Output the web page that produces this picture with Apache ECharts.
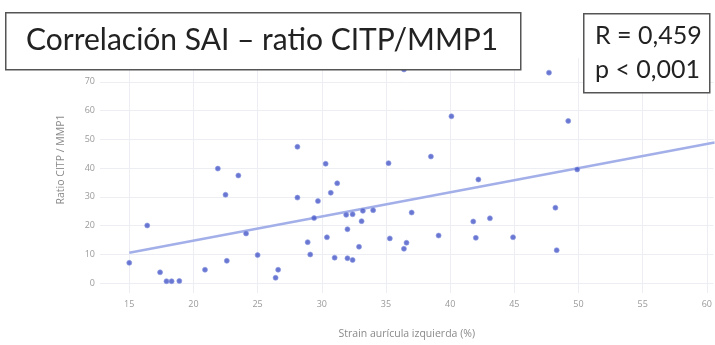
<!DOCTYPE html>
<html>
<head>
<meta charset="utf-8">
<script src="https://cdn.jsdelivr.net/npm/echarts@6/dist/echarts.min.js"></script>
<style>
html,body{margin:0;padding:0;background:#fff;}
#c{width:715px;height:345px;}
</style>
</head>
<body>
<div id="c"></div>
<script>
// Data
const strainX = [15.0,16.4,17.4,17.9,18.3,18.9,20.9,21.9,22.5,22.6,23.5,24.1,25.0,26.4,26.6,28.1,28.1,28.9,29.1,29.4,29.7,30.3,30.7,31.2,30.4,31.0,31.9,32.4,32.0,32.0,32.4,32.9,33.1,33.2,34.0,35.2,35.3,36.4,36.6,37.0,38.5,39.1,40.1,36.4,41.8,42.0,42.2,43.1,44.9,47.7,48.2,48.3,49.2,49.9];
const ratioY  = [7.0,20.0,3.7,0.6,0.6,0.7,4.6,39.8,30.7,7.7,37.4,17.2,9.7,1.8,4.6,47.4,29.7,14.2,9.9,22.6,28.5,41.5,31.4,34.7,15.9,8.8,23.7,23.9,18.7,8.6,8.0,12.6,21.5,25.1,25.3,41.7,15.5,11.9,14.0,24.5,44.0,16.5,58.0,74.3,21.4,15.7,36.0,22.5,15.9,73.2,26.2,11.4,56.4,39.5];
const trendX = [15, 60.6];
const trendY = [10.5, 48.9];
const xTicks = [15,20,25,30,35,40,45,50,55,60];
const yTicks = [0,10,20,30,40,50,60,70];
const titleText = 'Correlación SAI – ratio CITP/MMP1';
const statLines = ['R = 0,459', 'p < 0,001'];
const xName = 'Strain aurícula izquierda (%)';
const yName = 'Ratio CITP / MMP1';

const chart = echarts.init(document.getElementById('c'));
const pts = strainX.map((x,i)=>[x, ratioY[i]]);
const trend = trendX.map((x,i)=>[x, trendY[i]]);
const labelColor = '#9a9a9a';
const option = {
  animation: false,
  grid: {left: 100, right: 0, top: 58, bottom: 50, containLabel: false},
  xAxis: {
    type: 'value', min: 12.72, max: 60.52,
    axisLine: {show: false},
    axisTick: {show: false, customValues: xTicks},
    axisLabel: {customValues: xTicks, color: labelColor, fontSize: 9, margin: 7, fontFamily: 'Open Sans'},
    splitLine: {show: true, lineStyle: {color: '#eceef4', width: 1}},
    name: xName, nameLocation: 'middle', nameGap: 36,
    nameTextStyle: {color: '#8a8a8a', fontSize: 10.5, fontFamily: 'Open Sans'}
  },
  yAxis: {
    type: 'value', min: -3.5, max: 78.3,
    axisLine: {show: false},
    axisTick: {show: false, customValues: yTicks},
    axisLabel: {customValues: yTicks, color: labelColor, fontSize: 9, margin: 5, fontFamily: 'Open Sans'},
    splitLine: {show: true, lineStyle: {color: '#eceef4', width: 1}},
    name: yName, nameLocation: 'middle', nameGap: 33, nameRotate: 90,
    nameTextStyle: {color: '#8a8a8a', fontSize: 10.5, fontFamily: 'Open Sans', padding: [0, 0, 0, 32]}
  },
  series: [
    {
      type: 'line', data: trend, showSymbol: false, symbol: 'none',
      lineStyle: {color: '#a3afe8', width: 2.5}, z: 2, silent: true
    },
    {
      type: 'scatter', data: pts, symbol: 'circle', symbolSize: 5,
      itemStyle: {color: '#4355c8', borderColor: '#8e9ae0', borderWidth: 0.8}, z: 3
    }
  ],
  graphic: [
    {
      type: 'rect', z: 100, left: 5, top: 12,
      shape: {width: 515, height: 57},
      style: {fill: '#fff', stroke: '#555', lineWidth: 1.5}
    },
    {
      type: 'text', z: 101, left: 26, top: 25,
      style: {text: titleText, font: '30px Lato', fill: '#222'}
    },
    {
      type: 'rect', z: 100, left: 583, top: 13,
      shape: {width: 126, height: 79},
      style: {fill: '#fff', stroke: '#555', lineWidth: 1.5}
    },
    {
      type: 'text', z: 101, left: 595, top: 19,
      style: {text: statLines.join('\n'), font: '25px Lato', fill: '#222', lineHeight: 34}
    }
  ]
};
chart.setOption(option);
</script>
</body>
</html>
